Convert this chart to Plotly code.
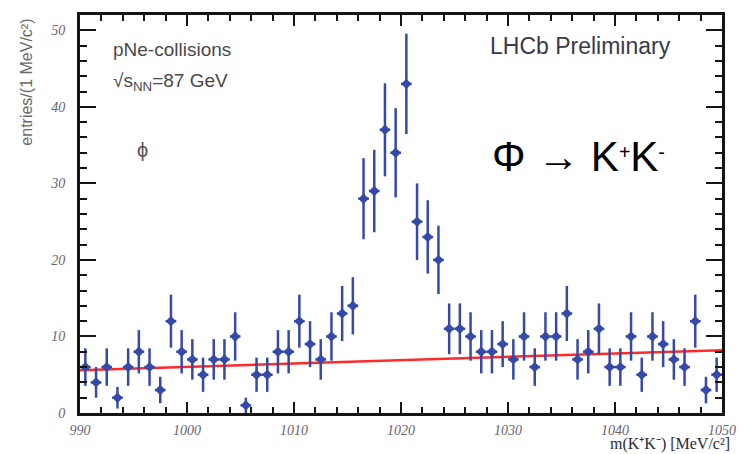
import numpy as np
import plotly.graph_objects as go

# K+K- invariant mass histogram, 1 MeV bins from 990 to 1050 MeV/c^2
bin_centers = [990.5 + i for i in range(60)]
counts = [6, 4, 6, 2, 6, 8, 6, 3, 12, 8,
          7, 5, 7, 7, 10, 1, 5, 5, 8, 8,
          12, 9, 7, 10, 13, 14, 28, 29, 37, 34,
          43, 25, 23, 20, 11, 11, 10, 8, 8, 9,
          7, 10, 6, 10, 10, 13, 7, 8, 11, 6,
          6, 10, 5, 10, 9, 7, 6, 12, 3, 5]
# Poisson uncertainties on the bin contents
errors = list(np.sqrt(np.array(counts, dtype=float)))

# Linear background fit (endpoints of the drawn line)
fit_x = [990, 1050]
fit_y = [5.6, 8.2]

x_ticks = [990, 1000, 1010, 1020, 1030, 1040, 1050]
y_ticks = [0, 10, 20, 30, 40, 50]

X_RANGE = [990, 1050]
Y_RANGE = [0, 52]

blue = "#3549a8"
frame = "#151515"
label_color = "#6b6373"

fig = go.Figure()

fig.add_trace(go.Scatter(
    x=fit_x, y=fit_y, mode="lines",
    line=dict(color="#ff2a2a", width=2.5),
    hoverinfo="skip", showlegend=False,
))

fig.add_trace(go.Scatter(
    x=bin_centers, y=counts, mode="markers",
    marker=dict(symbol="diamond", size=8, color=blue),
    error_y=dict(type="data", array=errors, thickness=2.5, width=0, color=blue),
    error_x=dict(type="constant", value=0.5, thickness=2.5, width=0, color=blue),
    showlegend=False,
))

tick_font = dict(family="Liberation Serif, Times New Roman, serif",
                 size=14, color=label_color)

# Boxed axes with inward major and minor ticks on all four sides
fig.update_xaxes(
    range=X_RANGE, tickmode="array", tickvals=x_ticks,
    ticktext=[f"<i>{v}</i>" for v in x_ticks],
    showgrid=False, zeroline=False,
    showline=True, linecolor=frame, linewidth=3, mirror="allticks",
    ticks="inside", ticklen=11, tickwidth=2, tickcolor=frame,
    minor=dict(tickmode="linear", tick0=990, dtick=2, ticks="inside",
               ticklen=6, tickwidth=1.5, tickcolor=frame, showgrid=False),
    ticklabeloverflow="allow", ticklabelstandoff=2, tickfont=tick_font,
)
fig.update_yaxes(
    range=Y_RANGE, tickmode="array", tickvals=y_ticks,
    ticktext=[f"<i>{v}</i>" for v in y_ticks],
    showgrid=False, zeroline=False,
    showline=True, linecolor=frame, linewidth=3, mirror="allticks",
    ticks="inside", ticklen=16, tickwidth=2, tickcolor=frame,
    minor=dict(tickmode="linear", tick0=0, dtick=2, ticks="inside",
               ticklen=7, tickwidth=1.5, tickcolor=frame, showgrid=False),
    ticklabeloverflow="allow", ticklabelstandoff=9, tickfont=tick_font,
)

sans = "Liberation Sans, Arial, sans-serif"
annotations = [
    dict(x=992.9, y=47.5, xref="x", yref="y", xanchor="left", yanchor="middle",
         text="pNe-collisions", showarrow=False,
         font=dict(family=sans, size=19, color="#4a4848")),
    dict(x=992.9, y=43.3, xref="x", yref="y", xanchor="left", yanchor="middle",
         text="√s<sub>NN</sub>=87 GeV",
         showarrow=False, font=dict(family=sans, size=19, color="#4a4848")),
    dict(x=995.8, y=34.4, xref="x", yref="y", xanchor="center", yanchor="middle",
         text="ϕ", showarrow=False, font=dict(family=sans, size=20, color="#5a5050")),
    dict(x=1036.8, y=47.9, xref="x", yref="y", xanchor="center", yanchor="middle",
         text="LHCb Preliminary", showarrow=False,
         font=dict(family=sans, size=23, color="#3a3a48")),
    dict(x=1036.6, y=33.5, xref="x", yref="y", xanchor="center", yanchor="middle",
         text="Φ <b>→</b> K<span style='font-size:28px'><sup>+</sup></span>"
              "K<span style='font-size:28px'><sup>-</sup></span>",
         showarrow=False,
         font=dict(family=sans, size=42, color="black")),
    dict(x=1, y=0, xref="paper", yref="paper", xanchor="right", yanchor="bottom",
         xshift=10, yshift=-42,
         text="m(K⁺K⁻) [MeV/c²]", showarrow=False,
         font=dict(family="Liberation Serif, Times New Roman, serif", size=16,
                   color="#2a2a3a")),
    dict(x=0, y=0.83, xref="paper", yref="paper", xanchor="center", yanchor="middle",
         xshift=-53, textangle=-90,
         text="entries/(1 MeV/c²)", showarrow=False,
         font=dict(family=sans, size=16, color="#6a6a6a")),
]

fig.update_layout(
    width=748, height=454,
    margin=dict(l=80, r=12, t=13, b=41),
    paper_bgcolor="white", plot_bgcolor="white",
    annotations=annotations,
)

fig.write_html("out.html")
